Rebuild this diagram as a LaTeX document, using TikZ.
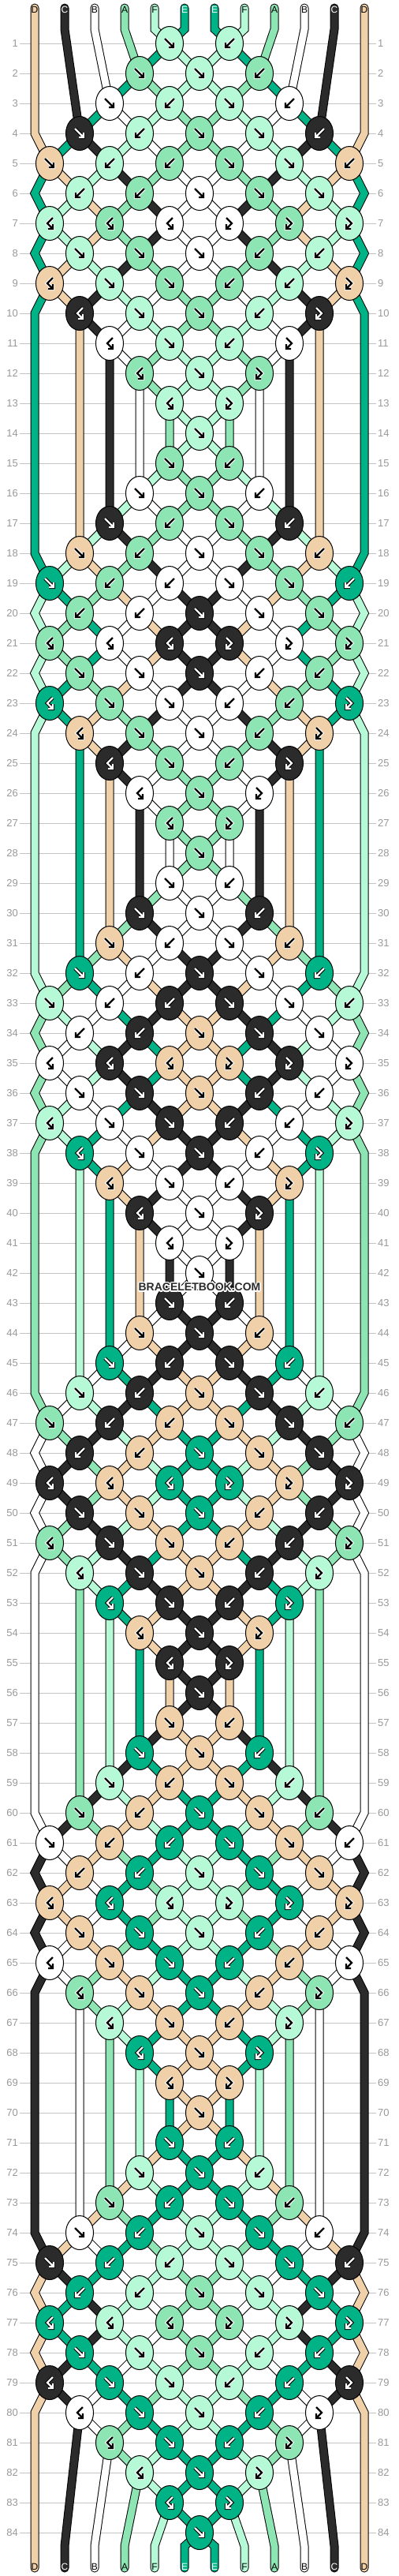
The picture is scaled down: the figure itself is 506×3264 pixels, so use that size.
\documentclass[tikz,border=0pt]{standalone}
\usepackage{fontspec}
\setmainfont{Liberation Sans}
\usetikzlibrary{shapes.geometric}

\definecolor{tanc}{HTML}{F0D0A8}
\definecolor{blackc}{HTML}{2B2B2B}
\definecolor{whitec}{HTML}{FFFFFF}
\definecolor{midc}{HTML}{8EE5B4}
\definecolor{mintc}{HTML}{B6F9D6}
\definecolor{tealc}{HTML}{00B386}
\definecolor{gridc}{HTML}{C4C4C4}
\definecolor{numc}{HTML}{999999}

\tikzset{
	knotnode/.style={ellipse, draw=black, line width=1pt, minimum width=35pt, minimum height=43pt, inner sep=0pt},
	strout/.style={line width=11pt, draw=black, line cap=round},
	strin/.style={line width=9pt, line cap=round},
	gridline/.style={draw=gridc, line width=1pt},
	rownum/.style={text=numc, font=\fontsize{13}{13}\selectfont, inner sep=2pt},
	letter/.style={font=\fontsize{12}{12}\selectfont, inner sep=0pt},
	marktext/.style={font=\bfseries\fontsize{14}{14}\selectfont, inner sep=0pt},
	glyph halo/.style={line width=4.4pt},
	glyph ink/.style={line width=2.2pt},
	halo tanc/.style={draw=white}, ink tanc/.style={draw=black},
	halo whitec/.style={draw=white}, ink whitec/.style={draw=black},
	halo midc/.style={draw=white}, ink midc/.style={draw=black},
	halo mintc/.style={draw=white}, ink mintc/.style={draw=black},
	halo blackc/.style={draw=black}, ink blackc/.style={draw=white},
	halo tealc/.style={draw=black}, ink tealc/.style={draw=white}
}

% knot codes: F forward, B backward, R backward-forward, L forward-backward
\newcommand\patrow[2]{\expandafter\def\csname pat#1\endcsname{#2}}
\patrow{1}{-,-,F,B,-,-}
\patrow{2}{-,F,F,B,-}
\patrow{3}{-,F,B,F,B,-}
\patrow{4}{F,B,F,F,B}
\patrow{5}{F,B,B,F,F,B}
\patrow{6}{B,B,F,F,F}
\patrow{7}{R,R,R,L,L,L}
\patrow{8}{F,F,F,B,B}
\patrow{9}{R,F,F,B,B,L}
\patrow{10}{R,F,F,B,L}
\patrow{11}{-,R,F,B,L,-}
\patrow{12}{-,R,F,L,-}
\patrow{13}{-,-,R,L,-,-}
\patrow{14}{-,-,F,-,-}

\newcommand\addpt[3]{\expandafter\xdef\csname path#1\endcsname{\csname path#1\endcsname\space -- (#2,#3)}}
\newcommand\swapit{\expandafter\xdef\csname slot\sa\endcsname{\idR}\expandafter\xdef\csname slot\sb\endcsname{\idL}}

\newcommand\glyphF[1]{\draw[#1] (-6,-6) -- (5,5) (5,-1) -- (5,5) -- (-1,5);}
\newcommand\glyphB[1]{\draw[#1] (6,-6) -- (-5,5) (-5,-1) -- (-5,5) -- (1,5);}
\newcommand\glyphR[1]{\draw[#1] (4,-7) -- (-3,0) -- (4,7) (4,1) -- (4,7) -- (-2,7);}
\newcommand\glyphL[1]{\draw[#1] (-4,-7) -- (3,0) -- (-4,7) (-4,1) -- (-4,7) -- (2,7);}

\newcommand\drawknot[5]{%
	\node[knotnode, fill=#3] (knot#5) at (#1,#2) {};
	\begin{scope}[shift={(#1,#2)}]
		\csname glyph#4\endcsname{glyph halo, halo #3}
		\csname glyph#4\endcsname{glyph ink, ink #3}
	\end{scope}}

\begin{document}
\begin{tikzpicture}[x=1pt, y=-1pt]
	\useasboundingbox (0,0) rectangle (506,3264);
	\fill[white] (0,0) rectangle (506,3264);

	% row lines
	\foreach \rowno in {1,...,84}{
		\node[rownum, anchor=east] (ln\rowno) at (25,17+38*\rowno) {\rowno};
		\node[rownum, anchor=west] (rn\rowno) at (477,17+38*\rowno) {\rowno};
		\draw[gridline] (ln\rowno) -- (rn\rowno);
	}

	% strings
	\foreach \cn [count=\sid] in {tanc,blackc,whitec,midc,mintc,tealc,tealc,mintc,midc,whitec,blackc,tanc}{
		\expandafter\xdef\csname strcol\sid\endcsname{\cn}
		\expandafter\xdef\csname slot\sid\endcsname{\sid}
		\edef\xx{\the\numexpr6+38*\sid\relax}
		\expandafter\xdef\csname path\sid\endcsname{(\xx,10) -- (\xx,37)}
	}
	\gdef\knotlist{}
	\foreach \blk in {0,...,5}{
		\foreach \rin in {1,...,14}{
			\edef\rowno{\the\numexpr14*\blk+\rin\relax}
			\edef\yy{\the\numexpr17+38*\rowno\relax}
			\edef\base{\ifodd\rowno\space 1\else 2\fi}
			\edef\kx{\ifodd\rowno\space 63\else 101\fi}
			\edef\pat{\csname pat\rin\endcsname}
			\foreach \kcode [count=\kpos from 0] in \pat {
				\if\kcode-\else
					\edef\sa{\the\numexpr\base+2*\kpos\relax}
					\edef\sb{\the\numexpr\sa+1\relax}
					\edef\xx{\the\numexpr\kx+76*\kpos\relax}
					\edef\idL{\csname slot\sa\endcsname}
					\edef\idR{\csname slot\sb\endcsname}
					\addpt{\idL}{\xx}{\yy}
					\addpt{\idR}{\xx}{\yy}
					\edef\kc{\csname strcol\if\kcode F\idL\else\if\kcode L\idL\else\idR\fi\fi\endcsname}
					\xdef\knotlist{\unexpanded\expandafter{\knotlist}\noexpand\drawknot{\xx}{\yy}{\kc}{\kcode}{\rowno-\kpos}}
					\if\kcode F\swapit\fi
					\if\kcode B\swapit\fi
				\fi
			}
			\ifodd\rowno\space\else
				\edef\idL{\csname slot1\endcsname}\addpt{\idL}{44}{\yy}
				\edef\idR{\csname slot12\endcsname}\addpt{\idR}{462}{\yy}
			\fi
		}
	}
	\foreach \s in {1,...,12}{
		\edef\idL{\csname slot\s\endcsname}
		\edef\xx{\the\numexpr6+38*\s\relax}
		\addpt{\idL}{\xx}{3226}
		\addpt{\idL}{\xx}{3254}
	}
	\foreach \sid in {1,...,12}{
		\edef\strcmd{\noexpand\draw[strout] \csname path\sid\endcsname; \noexpand\draw[strin, draw=\csname strcol\sid\endcsname] \csname path\sid\endcsname;}
		\strcmd
	}

	% knots
	\knotlist

	% string names
	\foreach \lab/\tc [count=\s] in {D/black,C/white,B/black,A/black,F/black,E/white,E/white,F/black,A/black,B/black,C/white,D/black}{
		\node[letter, text=\tc] (top\s) at (6+38*\s,12) {\lab};
		\node[letter, text=\tc] (bot\s) at (6+38*\s,3252) {\lab};
	}

	% watermark with white rim
	\foreach \ang in {0,30,...,330}{
		\node[marktext, text=white] at ([shift={(\ang:1.4pt)}]253,1631) {BRACELETBOOK.COM};
	}
	\node[marktext, text=blackc] (mark) at (253,1631) {BRACELETBOOK.COM};
\end{tikzpicture}
\end{document}
